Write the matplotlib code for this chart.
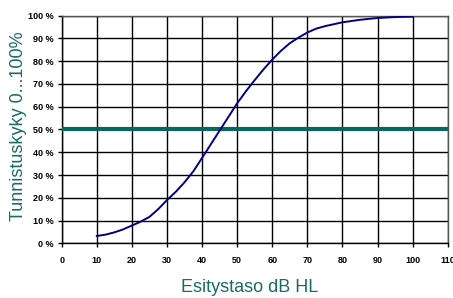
import matplotlib
matplotlib.use("Agg")
import matplotlib.pyplot as plt
from matplotlib.ticker import FuncFormatter

# Data
level_db = [10, 12.5, 15, 17.5, 20, 22.5, 25, 27.5, 30, 32.5, 35, 37.5, 40, 42.5, 45, 47.5,
            50, 52.5, 55, 57.5, 60, 62.5, 65, 67.5, 70, 72.5, 75, 80, 85, 90, 95, 100]
recognition_pct = [3.2, 3.8, 4.8, 6.1, 7.8, 9.5, 11.6, 15.0, 19.0, 22.6, 26.8, 31.6, 37.5, 43.5, 49.5, 55.5,
                   61.5, 66.8, 71.7, 76.4, 80.7, 84.6, 87.9, 90.4, 92.6, 94.3, 95.4, 97.1, 98.2, 99.0, 99.4, 99.6]
threshold_pct = 50
x_ticks = list(range(0, 111, 10))
y_ticks = list(range(0, 101, 10))

plt.rcParams['font.family'] = ['Liberation Sans', 'DejaVu Sans']

fig = plt.figure(figsize=(4.53, 2.98), dpi=100)
ax = fig.add_axes([0.1362, 0.1836, 0.8521, 0.7637])

ax.set_xlim(0, 110)
ax.set_ylim(0, 100)
ax.set_xticks(x_ticks)
ax.set_yticks(y_ticks)
ax.yaxis.set_major_formatter(FuncFormatter(lambda v, p: f"{int(v)} %"))
ax.grid(True, color='black', linewidth=1.0)
ax.set_axisbelow(True)

for s in ax.spines.values():
    s.set_color('#555555')
    s.set_linewidth(1.0)
ax.spines['left'].set_color('black')
ax.spines['bottom'].set_color('black')

ax.tick_params(axis='both', direction='out', length=3, width=1, labelsize=6.5, pad=3)
ax.tick_params(axis='x', pad=6)
for lbl in ax.get_xticklabels() + ax.get_yticklabels():
    lbl.set_fontweight('bold')

ax.axhline(threshold_pct, color='#0b6660', linewidth=3.0, zorder=3)
ax.plot(level_db, recognition_pct, color='#000080', linewidth=1.4, zorder=4)

teal = '#1a6b64'
fig.text(0.040, 0.575, 'Tunnistuskyky 0...100%', rotation=90, ha='center', va='center',
         fontsize=13, color=teal)
fig.text(0.552, 0.035, 'Esitystaso dB HL', ha='center', va='center', fontsize=13, color=teal)

fig.savefig('out.png', dpi=100)
